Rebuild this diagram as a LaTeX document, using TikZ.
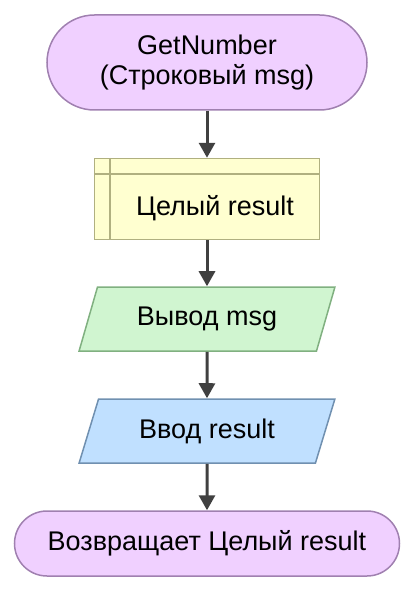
\documentclass[tikz,border=0pt]{standalone}
\usepackage{fontspec}
\setmainfont{Liberation Sans}
\usetikzlibrary{arrows.meta,shapes.geometric}
\definecolor{termfill}{HTML}{F0D0FF}
\definecolor{termdraw}{HTML}{A080B0}
\definecolor{declfill}{HTML}{FFFFD0}
\definecolor{decldraw}{HTML}{B0B080}
\definecolor{outfill}{HTML}{D0F5D0}
\definecolor{outdraw}{HTML}{80B080}
\definecolor{infill}{HTML}{C0E0FF}
\definecolor{indraw}{HTML}{7090B0}
\definecolor{arrowcol}{HTML}{404040}
\tikzset{
  base/.style={line width=1.5pt, font=\fontsize{27}{30}\selectfont, align=center, inner sep=0pt},
  term/.style={base, rectangle, fill=termfill, draw=termdraw},
  decl/.style={base, rectangle, fill=declfill, draw=decldraw, minimum width=225pt, minimum height=81pt},
  io/.style={base, trapezium, trapezium stretches=true, trapezium left angle=64, trapezium right angle=116, minimum width=256pt, minimum height=64pt},
  flow/.style={draw=arrowcol, line width=3pt, -{Triangle[width=16pt,length=15pt]}}
}
\begin{document}
\begin{tikzpicture}[x=1pt,y=-1pt]
\useasboundingbox (0,0) rectangle (415,591);
\node[term, minimum width=320pt, minimum height=95pt, rounded corners=47.5pt] (start) at (207,62.5) {GetNumber\\(Строковый msg)};
\node[decl] (var) at (207,199) {};
\draw[decldraw, line width=1.5pt] ([xshift=16pt]var.north west) -- ([xshift=16pt]var.south west);
\draw[decldraw, line width=1.5pt] ([yshift=-16pt]var.north west) -- ([yshift=-16pt]var.north east);
\node[base] (vartext) at (215,208.5) {Целый result};
\node[io, fill=outfill, draw=outdraw] (out) at (207,319) {Вывод msg};
\node[io, fill=infill, draw=indraw] (in) at (207,431) {Ввод result};
\node[term, minimum width=385pt, minimum height=65pt, rounded corners=32.5pt] (stop) at (207,543.5) {Возвращает Целый result};
\draw[flow] (start) -- (var);
\draw[flow] (var) -- (out);
\draw[flow] (out) -- (in);
\draw[flow] (in) -- (stop);
\end{tikzpicture}
\end{document}
